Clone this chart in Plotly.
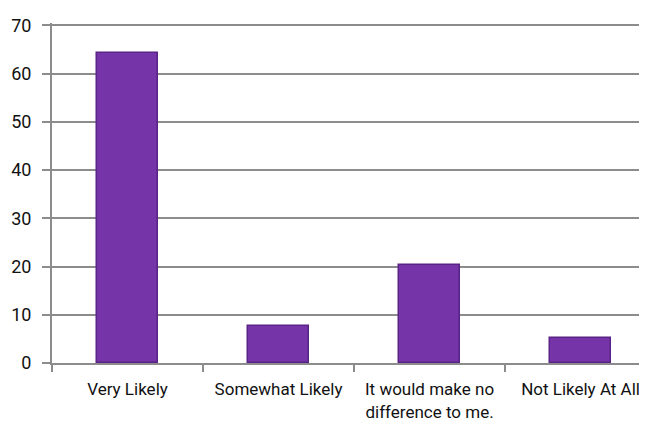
import plotly.graph_objects as go

categories = ["Very Likely", "Somewhat Likely", "It would make no<br>difference to me.", "Not Likely At All"]
values = [64.2, 7.7, 20.4, 5.2]
y_ticks = [0, 10, 20, 30, 40, 50, 60, 70]

FONT = "Roboto, sans-serif"

fig = go.Figure()
fig.add_trace(go.Bar(
    x=categories, y=values, width=0.4,
    marker=dict(color="#7535A8", line=dict(color="#5A2386", width=1.5)),
))

# page body has an 8px default margin, so the figure is offset by 8px
fig.update_layout(
    width=639, height=422,
    margin=dict(l=44, r=0, t=15, b=67),
    paper_bgcolor="white", plot_bgcolor="white",
    font=dict(family=FONT, size=17, color="#111111"),
    showlegend=False,
    bargap=0,
)
fig.update_xaxes(
    range=[-0.5, 3.44],
    showline=True, linecolor="#8c8c8c", linewidth=2,
    ticks="outside", tickson="boundaries", ticklen=7, tickcolor="#8c8c8c", tickwidth=1.5,
    showgrid=False, fixedrange=True, automargin=False,
    ticklabelstandoff=10,
)
fig.update_yaxes(
    range=[0, 70.5], tickvals=y_ticks,
    showline=True, linecolor="#8c8c8c", linewidth=2,
    ticks="outside", ticklen=8, tickcolor="#8c8c8c", tickwidth=2,
    showgrid=True, gridcolor="#8c8c8c", gridwidth=2,
    zeroline=False, ticklabelstandoff=7, automargin=False,
    tickfont=dict(size=18),
)

fig.write_html("out.html")
